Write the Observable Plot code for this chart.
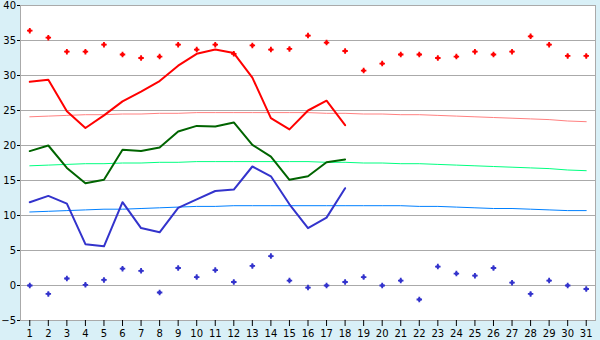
<!DOCTYPE html>
<html><head><meta charset="utf-8">
<script src="https://cdn.jsdelivr.net/npm/d3@7"></script>
<script src="https://cdn.jsdelivr.net/npm/@observablehq/plot@0.6"></script>
<style>body{margin:0;background:#d9f0f7}</style>
</head><body><div id="chart"></div>
<script>
const days = d3.range(1, 32);
const yTicks = [-5, 0, 5, 10, 15, 20, 25, 30, 35, 40];
const tMax = [29.1, 29.4, 24.9, 22.5, 24.3, 26.3, 27.7, 29.2, 31.4, 33.1, 33.7, 33.2, 29.7, 23.9, 22.3, 25.0, 26.4, 22.9];
const tMean = [19.2, 20.0, 16.8, 14.6, 15.1, 19.4, 19.2, 19.7, 22.0, 22.8, 22.7, 23.3, 20.1, 18.4, 15.1, 15.6, 17.6, 18.0];
const tMin = [11.9, 12.8, 11.7, 5.9, 5.6, 11.9, 8.2, 7.6, 11.1, 12.3, 13.5, 13.7, 17.0, 15.6, 11.6, 8.2, 9.7, 13.9];
const recMax = [36.4, 35.4, 33.4, 33.4, 34.4, 33.0, 32.5, 32.7, 34.4, 33.7, 34.4, 33.1, 34.3, 33.7, 33.8, 35.7, 34.7, 33.5, 30.7, 31.7, 33.0, 33.0, 32.5, 32.7, 33.4, 33.0, 33.4, 35.6, 34.4, 32.8, 32.8];
const recMin = [0.0, -1.2, 1.0, 0.1, 0.8, 2.4, 2.1, -1.0, 2.5, 1.2, 2.2, 0.5, 2.8, 4.2, 0.7, -0.3, 0.0, 0.5, 1.2, 0.0, 0.7, -2.0, 2.7, 1.7, 1.4, 2.5, 0.4, -1.2, 0.7, 0.0, -0.5];
const normMax = [24.1, 24.2, 24.3, 24.4, 24.4, 24.5, 24.5, 24.6, 24.6, 24.7, 24.7, 24.7, 24.7, 24.7, 24.7, 24.7, 24.6, 24.6, 24.5, 24.5, 24.4, 24.4, 24.3, 24.2, 24.1, 24.0, 23.9, 23.8, 23.7, 23.5, 23.4];
const normMean = [17.1, 17.2, 17.3, 17.4, 17.4, 17.5, 17.5, 17.6, 17.6, 17.7, 17.7, 17.7, 17.7, 17.7, 17.7, 17.7, 17.6, 17.6, 17.5, 17.5, 17.4, 17.4, 17.3, 17.2, 17.1, 17.0, 16.9, 16.8, 16.7, 16.5, 16.4];
const normMin = [10.5, 10.6, 10.7, 10.8, 10.9, 10.9, 11.0, 11.1, 11.2, 11.3, 11.3, 11.4, 11.4, 11.4, 11.4, 11.4, 11.4, 11.4, 11.4, 11.4, 11.4, 11.3, 11.3, 11.2, 11.1, 11.0, 11.0, 10.9, 10.8, 10.7, 10.7];

const series = (vals) => vals.map((v, i) => ({day: days[i], v}));

const chart = Plot.plot({
  width: 600, height: 340,
  marginLeft: 20, marginRight: 5, marginTop: 5, marginBottom: 20,
  style: {fontFamily: "DejaVu Sans", fontSize: "10px", background: "#d9f0f7", color: "black", overflow: "visible"},
  x: {type: "point", domain: days, padding: 0.5, round: false, label: null},
  y: {domain: [-5, 40], label: null},
  marks: [
    Plot.frame({fill: "white", stroke: null}),
    Plot.ruleY(yTicks, {stroke: "#aaaaaa", strokeWidth: 1}),
    Plot.line(series(normMax), {x: "day", y: "v", stroke: "#ff8080", strokeWidth: 1}),
    Plot.line(series(normMean), {x: "day", y: "v", stroke: "#00ff80", strokeWidth: 1}),
    Plot.line(series(normMin), {x: "day", y: "v", stroke: "#0080ff", strokeWidth: 1}),
    Plot.line(series(tMax), {x: "day", y: "v", stroke: "#ff0000", strokeWidth: 2}),
    Plot.line(series(tMean), {x: "day", y: "v", stroke: "#006400", strokeWidth: 2}),
    Plot.line(series(tMin), {x: "day", y: "v", stroke: "#3333cc", strokeWidth: 2}),
    Plot.dot(series(recMax), {x: "day", y: "v", symbol: "cross", r: 2.3, fill: "#ff0000", stroke: null}),
    Plot.dot(series(recMax), {x: "day", y: "v", symbol: "square", r: 1.6, fill: "#ff0000", stroke: null}),
    Plot.dot(series(recMin), {x: "day", y: "v", symbol: "cross", r: 2.3, fill: "#3333cc", stroke: null}),
    Plot.dot(series(recMin), {x: "day", y: "v", symbol: "square", r: 1.6, fill: "#3333cc", stroke: null}),
    Plot.frame({stroke: "#aaaaaa"}),
    Plot.axisY({ticks: yTicks, tickSize: 3, tickPadding: 1.5, stroke: "black", label: null}),
    Plot.axisX({tickSize: 6, tickPadding: 3, stroke: "black", label: null})
  ]
});
document.getElementById("chart").appendChild(chart);
</script>
</body></html>
